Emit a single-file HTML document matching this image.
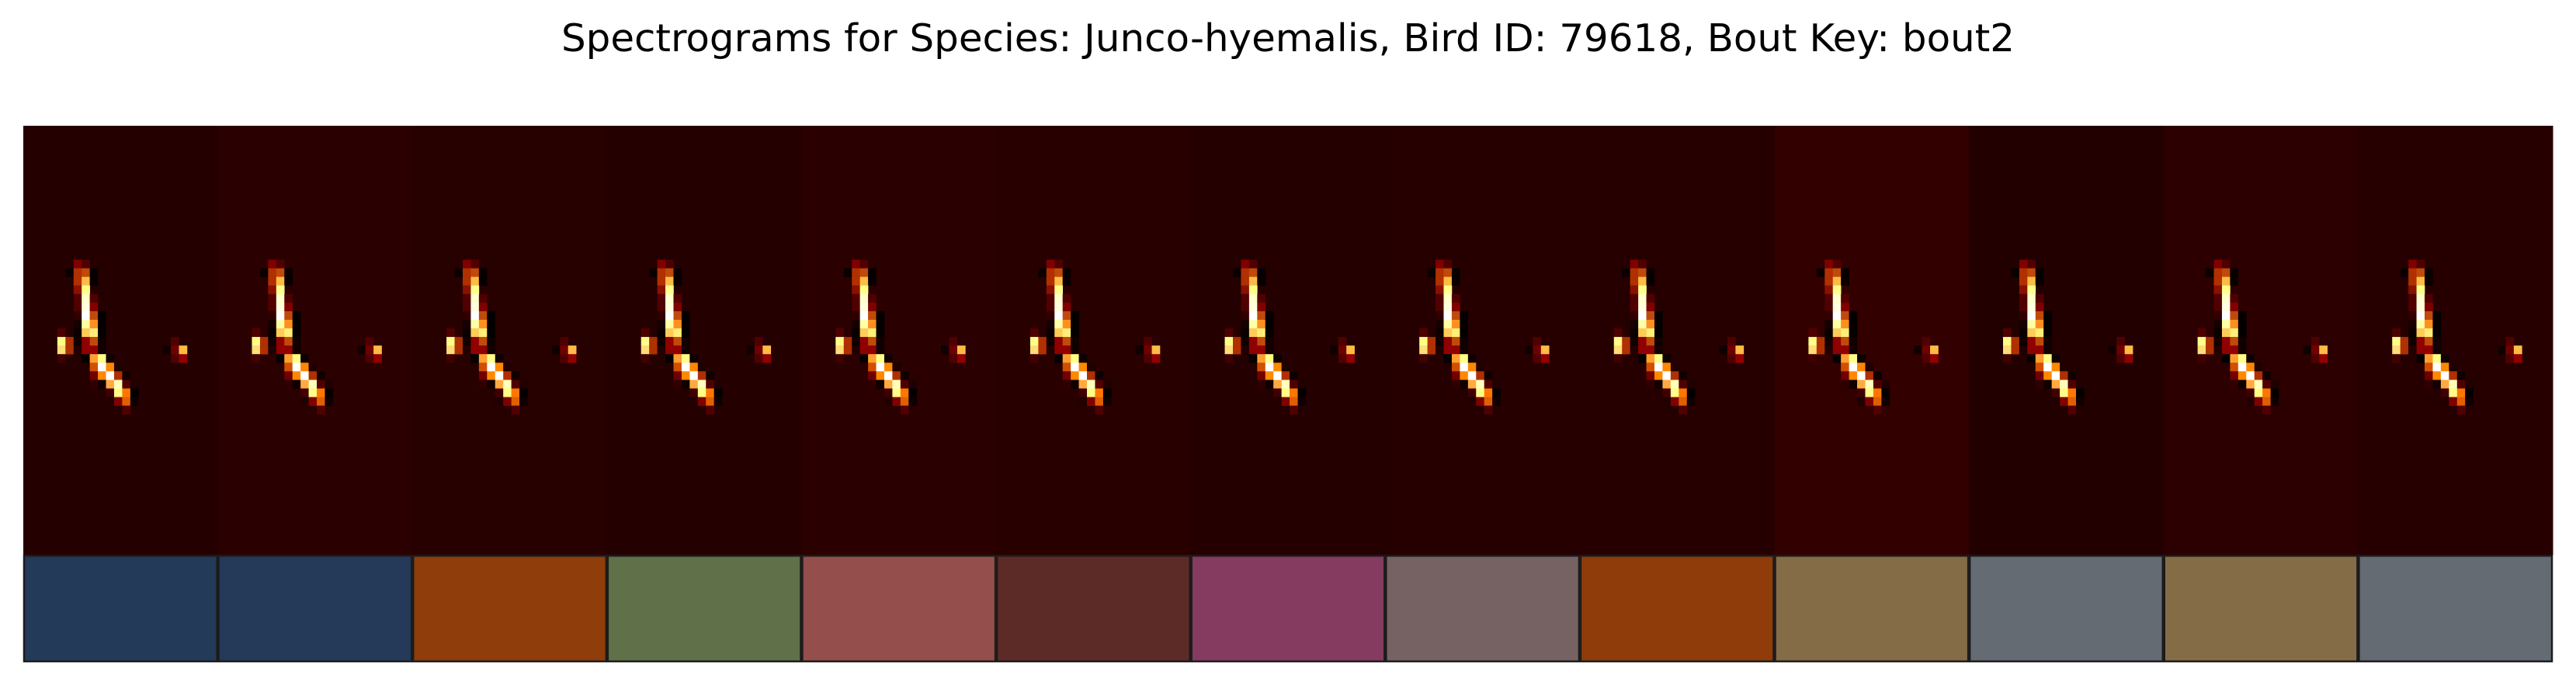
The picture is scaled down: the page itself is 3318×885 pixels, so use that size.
<!DOCTYPE html>
<html><head><meta charset="utf-8"><style>
html,body{margin:0;padding:0;background:#fff;}
svg{display:block;}
</style></head><body>
<svg id="chart" width="3318" height="885" viewBox="0 0 3318 885" xmlns="http://www.w3.org/2000/svg">
<text x="1659" y="66" text-anchor="middle" font-family="DejaVu Sans, Liberation Sans, sans-serif" font-size="49" textLength="1872" lengthAdjust="spacingAndGlyphs" fill="#000">Spectrograms for Species: Junco-hyemalis, Bird ID: 79618, Bout Key: bout2</text>
<g id="panels"></g>
</svg>
<script>
const panelBg = ["#250000","#2b0000","#270000","#250000","#2a0000","#280000","#240000","#260000","#260000","#330000","#220000","#2c0000","#260000"];
const labelColors = ["#233a59","#253a59","#8f3d0b","#607048","#944e4c","#5d2b27","#853b60","#766262","#8f3c0a","#846c46","#646b73","#846d46","#646b73"];
const cellRows = [
 0,0,
 1,1,1,1,
 2,2,2,
 3,3,
 4,4,4,
 5,5,5,
 6,6,6,6,
 7,7,7,7,
 8,8,8,8,8,
 9,9,9,9,9,9,9,
 10,10,10,10,10,10,10,10,10,
 11,11,11,11,11,11,11,
 12,12,12,12,
 13,13,13,13,13,
 14,14,14,14,14,14,
 15,15,15,15,
 16,16,16,16,
 17];
const cellCols = [
 3,4,
 2,3,4,5,
 3,4,5,
 3,4,
 3,4,5,
 3,4,5,
 3,4,5,6,
 3,4,5,6,
 1,3,4,5,6,
 1,2,3,4,5,6,15,
 1,2,3,4,5,6,14,15,16,
 1,4,5,6,7,15,16,
 5,6,7,8,
 5,6,7,8,9,
 5,6,7,8,9,10,
 7,8,9,10,
 7,8,9,10,
 9];
const cellColors = [
 "#800000","#500000",
 "#0a0000","#b03000","#c04a0a","#080000",
 "#b03000","#ffbb44","#080000",
 "#8a1000","#ffff88",
 "#500000","#ffffcc","#500000",
 "#500000","#ffffdd","#800000",
 "#300000","#ffffff","#c04a0a","#050000",
 "#180000","#ffffaa","#ff9020","#050000",
 "#500000","#0a0000","#ffcc55","#ffee77","#050000",
 "#ffff88","#b03000","#100000","#900000","#c04a0a","#100000","#500000",
 "#ffdd77","#b03000","#200000","#900000","#900000","#100000","#100000","#700000","#ffbb44",
 "#400000","#050000","#ffa030","#ffff88","#100000","#500000","#900000",
 "#d05000","#ffffff","#ff8800","#200000",
 "#700000","#ff8800","#ffffff","#b03000","#100000",
 "#300000","#100000","#ffaa40","#ffffbb","#500000","#200000",
 "#400000","#ffff88","#ff7700","#050000",
 "#200000","#800000","#e06000","#100000",
 "#500000"];
const NS = "http://www.w3.org/2000/svg";
const x0 = 30, x1 = 3288, specTop = 162, specBot = 715, boxBot = 853;
const nPanels = panelBg.length;
const pw = (x1 - x0) / nPanels;
const colW = pw / 24, rowH = (specBot - specTop) / 50;
const g = document.getElementById('panels');
function xPanel(i){ return x0 + i * pw; }
for (let i = 0; i < nPanels; i++) {
  const px = xPanel(i);
  const bg = document.createElementNS(NS, 'rect');
  
  
  bg.setAttribute('x', px); bg.setAttribute('y', specTop);
  bg.setAttribute('width', pw + 0.5); bg.setAttribute('height', specBot - specTop);
  bg.setAttribute('fill', panelBg[i]);
  g.appendChild(bg);
  const n = Math.min(cellCols.length, cellRows.length, cellColors.length);
  for (let k = 0; k < n; k++) {
    const c = document.createElementNS(NS, 'rect');
    
    
    c.setAttribute('x', px + (3.2 + cellCols[k]) * colW);
    c.setAttribute('y', specTop + (15.6 + cellRows[k]) * rowH);
    c.setAttribute('width', colW + 0.3); c.setAttribute('height', rowH + 0.3);
    c.setAttribute('fill', cellColors[k]);
    g.appendChild(c);
  }
  const b = document.createElementNS(NS, 'rect');
  
  
  b.setAttribute('x', px + 1); b.setAttribute('y', specBot + 1);
  b.setAttribute('width', pw - 2); b.setAttribute('height', boxBot - specBot - 2);
  b.setAttribute('fill', labelColors[i]);
  b.setAttribute('stroke', '#1c1c1c'); b.setAttribute('stroke-width', '2.5');
  g.appendChild(b);
}
</script>
</body></html>
